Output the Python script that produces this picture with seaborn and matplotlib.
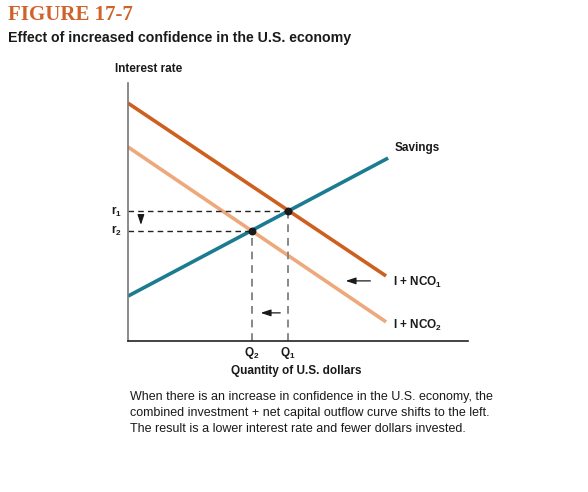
import numpy as np
import pandas as pd
import matplotlib
matplotlib.use("Agg")
import matplotlib.pyplot as plt
import seaborn as sns

# curve endpoints (quantity, interest rate)
savings_q = [0, 76.5]
savings_r = [17.4, 70.9]
nco1_q = [0, 75.9]
nco1_r = [92.2, 25.2]
nco2_q = [0, 75.9]
nco2_r = [75.2, 7.4]

# equilibrium points
eq_q = [47.1, 36.5]
eq_r = [50.2, 42.7]
eq_q_labels = ["Q$_1$", "Q$_2$"]
eq_r_labels = ["r$_1$", "r$_2$"]

curve_names = ["Savings", "I + NCO$_1$", "I + NCO$_2$"]
curve_colors = ["#1b7b91", "#cd601f", "#eda97c"]

sns.set_style("white")
sans = ["Liberation Sans", "DejaVu Sans"]
plt.rcParams["font.family"] = sans
plt.rcParams["mathtext.fontset"] = "custom"
plt.rcParams["mathtext.rm"] = "Liberation Sans:bold"
plt.rcParams["mathtext.it"] = "Liberation Sans:bold"
plt.rcParams["mathtext.bf"] = "Liberation Sans:bold"

df = pd.concat([
    pd.DataFrame({"q": savings_q, "r": savings_r, "curve": curve_names[0]}),
    pd.DataFrame({"q": nco1_q, "r": nco1_r, "curve": curve_names[1]}),
    pd.DataFrame({"q": nco2_q, "r": nco2_r, "curve": curve_names[2]}),
])

fig = plt.figure(figsize=(5.88, 4.92), dpi=100)
ax = fig.add_axes([128 / 588, 1 - 341 / 492, 340 / 588, 258 / 492])

sns.lineplot(data=df, x="q", y="r", hue="curve", palette=curve_colors,
             hue_order=curve_names, lw=2.6, legend=False, ax=ax,
             solid_capstyle="butt")

# dashed guides
for q, r in zip(eq_q, eq_r):
    ax.plot([0, q], [r, r], color="#222222", ls=(0, (4, 3)), lw=1)
    ax.plot([q, q], [0, r], color="#888888", ls=(0, (4, 3)), lw=1.4)

ax.scatter(eq_q, eq_r, s=22, color="#1a1a1a", zorder=5)

# shift arrows
arrow = dict(arrowstyle="-|>,head_length=0.6,head_width=0.2", color="#1a1a1a", lw=0.9)
ax.annotate("", xy=(3.8, 43.9), xytext=(3.8, 49.0), arrowprops=arrow)
ax.annotate("", xy=(38.2, 10.9), xytext=(45.6, 10.9), arrowprops=arrow)
ax.annotate("", xy=(63.2, 23.3), xytext=(72.1, 23.3), arrowprops=arrow)

ax.set_xlim(0, 100)
ax.set_ylim(0, 100)
ax.set_xticks([])
ax.set_yticks([])
for s in ["top", "right"]:
    ax.spines[s].set_visible(False)
ax.spines["left"].set_color("#777777")
ax.spines["bottom"].set_color("#222222")
for s in ["left", "bottom"]:
    ax.spines[s].set_linewidth(1.2)
ax.set_xlabel("")
ax.set_ylabel("")

lab = dict(fontsize=8.5, fontweight="bold", color="#1a1a1a")
ax.text(78.5, 74.8, curve_names[0], ha="left", va="center", **lab)
ax.text(77.9, 22.5, curve_names[1], ha="left", va="center", **lab)
ax.text(77.9, 6.0, curve_names[2], ha="left", va="center", **lab)
for q, t in zip(eq_q, eq_q_labels):
    ax.text(q, -4.5, t, ha="center", va="center", clip_on=False, **lab)
for r, t in zip(eq_r, eq_r_labels):
    ax.text(-1.8, r, t, ha="right", va="center", clip_on=False, **lab)

fig.text(296 / 588, 1 - 371 / 492, "Quantity of U.S. dollars", ha="center", va="center", **lab)
fig.text(115 / 588, 1 - 69 / 492, "Interest rate", ha="left", va="center", **lab)

fig.text(8 / 588, 1 - 15 / 492, "FIGURE 17-7", ha="left", va="center",
         fontsize=15, fontweight="bold", color="#d0622a",
         family=["Liberation Serif", "DejaVu Serif"])
fig.text(8 / 588, 1 - 38 / 492, "Effect of increased confidence in the U.S. economy",
         ha="left", va="center", fontsize=10.2, fontweight="bold", color="#1a1a1a")

caption = ("When there is an increase in confidence in the U.S. economy, the\n"
           "combined investment + net capital outflow curve shifts to the left.\n"
           "The result is a lower interest rate and fewer dollars invested.")
fig.text(130 / 588, 1 - 413 / 492, caption, ha="left", va="center", fontsize=9,
         color="#1a1a1a", linespacing=1.4)

fig.savefig("out.png", dpi=100)
